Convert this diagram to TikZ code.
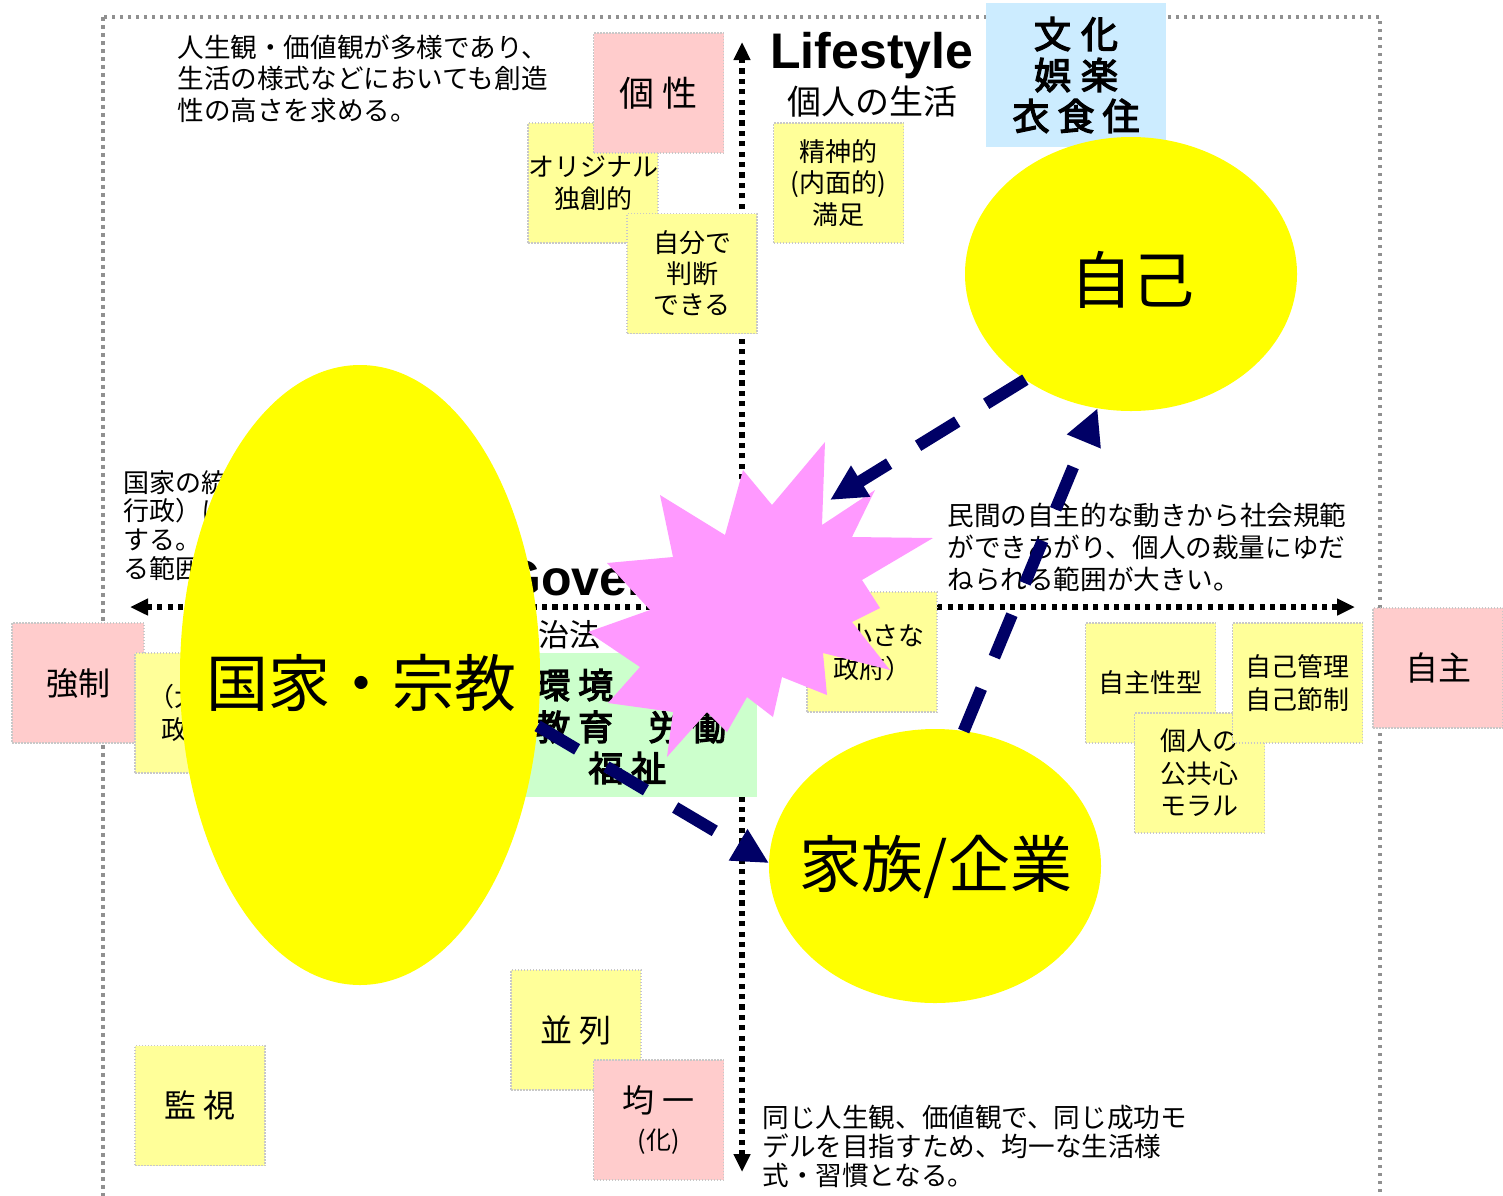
\documentclass[tikz,border=0pt]{standalone}
\usepackage{fontspec}
\setmainfont{Noto Sans CJK JP}
\newfontfamily\jpb[FakeBold=3.5]{Noto Sans CJK JP}
\newfontfamily\latf{Liberation Sans}
\usetikzlibrary{shapes.geometric,arrows.meta}
\definecolor{stY}{HTML}{FFFF99}
\definecolor{stP}{HTML}{FFCCCC}
\definecolor{stB}{HTML}{CCECFF}
\definecolor{stG}{HTML}{CCFFCC}
\definecolor{burst}{HTML}{FF99FF}
\definecolor{navyc}{HTML}{000066}
\definecolor{elY}{HTML}{FFFF00}
\definecolor{frameG}{HTML}{909090}
\definecolor{stBorder}{HTML}{C8C8C8}
\begin{document}
\begin{tikzpicture}[x=0.5pt,y=-0.5pt,
  sticky/.style={draw=stBorder, line width=0.75pt, dash pattern=on 0.75pt off 0.75pt, minimum width=65pt, minimum height=60pt, inner sep=0pt, align=center, font=\fontsize{13}{16.25}\selectfont},
  ys/.style={sticky, fill=stY},
  ps/.style={sticky, fill=stP},
  para/.style={anchor=west, align=left, inner sep=0pt},
  blob/.style={ellipse, fill=elY, inner sep=0pt, outer sep=0pt},
  blobtext/.style={inner sep=0pt, font=\fontsize{31}{36}\selectfont},
  axisline/.style={line width=2.6pt, dash pattern=on 2.6pt off 2.6pt, {Triangle[length=9pt,width=8pt]}-{Triangle[length=9pt,width=8pt]}},
  flow/.style={navyc, line width=6pt, dash pattern=on 23pt off 17pt, -{Triangle[length=18pt,width=17pt]}},
  greentext/.style={anchor=west, inner sep=0pt, font=\jpb\fontsize{17.5}{20}\selectfont}
]
\fill[white] (0,0) rectangle (1503,1195);
\useasboundingbox (0,0) rectangle (1503,1195);

% outer frame
\draw[frameG, line width=1.75pt, dash pattern=on 1.75pt off 2.25pt] (103,17) rectangle (1380,1230);

% axes
\coordinate (vtop) at (742,42);
\coordinate (vbot) at (742,1172);
\coordinate (hl) at (130,607);
\coordinate (hr) at (1355,607);
\draw[axisline] (vbot) -- (vtop);
\draw[axisline] (hl) -- (hr);

% titles
\node[anchor=base west, inner sep=0pt, font=\latf\bfseries\fontsize{25}{30}\selectfont] (life) at (770,68) {Lifestyle};
\node[inner sep=0pt, font=\fontsize{17}{20}\selectfont] (lifejp) at (872,102) {個人の生活};
\node[anchor=base west, inner sep=0pt, font=\latf\bfseries\fontsize{25}{30}\selectfont] (gov) at (502,595) {Government};
\node[anchor=west, inner sep=0pt, font=\fontsize{15.5}{18}\selectfont] (govjp) at (507,635) {政治法};

% paragraphs
\node[para, font=\fontsize{13.3}{15.75}\selectfont] (p1) at (177,78.5) {人生観・価値観が多様であり、\\生活の様式などにおいても創造\\性の高さを求める。};
\node[para, font=\fontsize{13}{14.35}\selectfont] (p2) at (123,525) {国家の統制（立法・司法・\\行政）により社会規範を形成\\する。個人の裁量にゆだねられ\\る範囲が小さい。};
\node[para, font=\fontsize{13.3}{16}\selectfont] (p3) at (947,547) {民間の自主的な動きから社会規範\\ができあがり、個人の裁量にゆだ\\ねられる範囲が大きい。};
\node[para, font=\fontsize{13.3}{14.5}\selectfont] (p4) at (762,1146) {同じ人生観、価値観で、同じ成功モ\\デルを目指すため、均一な生活様\\式・習慣となる。};

% sticky notes
\node[ys] (orig) at (593,183) {オリジナル\\独創的};
\node[ps, font=\fontsize{17.5}{20}\selectfont] (kosei) at (658.5,93) {個 性};
\node[ys, font=\fontsize{13}{15.5}\selectfont] (jibun) at (692,273.5) {自分で\\判断\\できる};
\node[ys, font=\fontsize{13}{15.75}\selectfont] (seishin) at (838.5,183) {精神的\\(内面的)\\満足};
\node[fill=stB, minimum width=90pt, minimum height=72pt, inner sep=0pt, align=center, font=\jpb\fontsize{18.5}{20.5}\selectfont] (bunka) at (1076,75) {文\hspace{5pt}化\\娯\hspace{5pt}楽\\衣\hspace{4pt}食\hspace{4pt}住};
\node[ps, minimum width=66pt, font=\fontsize{16}{19}\selectfont] (kyosei) at (78,683) {強制};
\node[ys] (ookina) at (200,713) {（大きな\\政府）};
\node[ys] (jishusei) at (1150.5,683) {自主性型};
\node[ys] (kojin) at (1199.5,773) {個人の\\公共心\\モラル};
\node[ys] (kanri) at (1297.5,683) {自己管理\\自己節制};
\node[ps, font=\fontsize{16.5}{19}\selectfont] (jishu) at (1438,668) {自主};
\node[ys, font=\fontsize{16}{19}\selectfont] (heiretsu) at (576,1030) {並 列};
\node[ps, font=\fontsize{16}{18.5}\selectfont] (kinitsu) at (658.5,1120) {均 一\\\fontsize{12.5}{18.5}\selectfont (化)};
\node[ys, font=\fontsize{16}{19}\selectfont] (kanshi) at (200,1105.5) {監 視};
\node[ys] (chiisana) at (872,652) {（小さな\\政府）};

% green box
\node[fill=stG, minimum width=128.5pt, minimum height=72pt, inner sep=0pt] (env) at (628.5,725) {};
\node[greentext] (g1) at (535,685) {環 境};
\node[greentext] (g2) at (535,727) {教 育　労 働};
\node[greentext] (g3) at (588,768) {福 祉};

% ellipses
\node[blob, minimum width=180pt, minimum height=310pt] (kokka) at (360,675) {};
\node[blobtext] (kokkat) at (361,683) {国家・宗教};
\node[blob, minimum width=166pt, minimum height=137pt] (jiko) at (1131,274) {};
\node[blobtext] (jikot) at (1132,280) {自己};
\node[blob, minimum width=166pt, minimum height=137pt] (kazoku) at (935,866) {};
\node[blobtext] (kazokut) at (936,867) {家族/企業};

% starburst
\fill[burst] (825,442) -- (772,505) -- (743,470) -- (725,535) -- (660,495) -- (673,557)
  -- (607,563) -- (650,610) -- (588,632) -- (640,667) -- (608,703) -- (673,712)
  -- (667,757) -- (707,712) -- (727,732) -- (747,697) -- (773,717) -- (782,677)
  -- (827,695) -- (823,653) -- (890,670) -- (852,622) -- (880,608) -- (862,580)
  -- (933,538) -- (852,537) -- (875,490) -- (822,525) -- cycle;
\coordinate (hit) at (830,500);

% arrows
\draw[flow] (kokka.-16) -- (kazoku.179);
\draw[flow] (kazoku.78) -- (jiko.256);
\draw[flow] (jiko.225) -- (hit);
\end{tikzpicture}
\end{document}
